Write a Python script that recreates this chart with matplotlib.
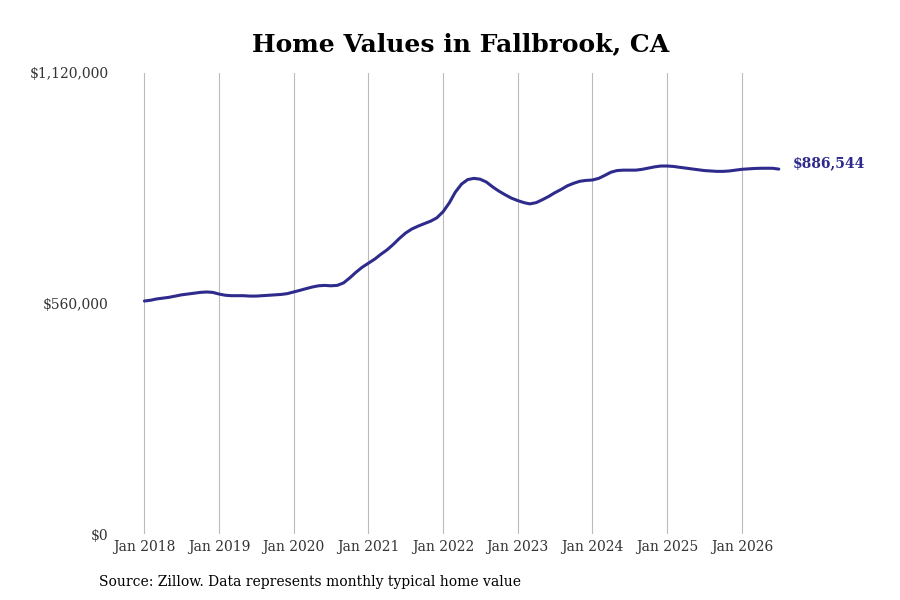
import numpy as np
import pandas as pd
import matplotlib
matplotlib.use("Agg")
import matplotlib.pyplot as plt
import matplotlib.dates as mdates
import matplotlib.ticker as mticker

plt.rcParams['font.family'] = 'DejaVu Serif'

# monthly typical home value, Jan 2018 - Jul 2026 (thousands)
values_k = [
    566, 568, 571, 573, 575, 578, 581, 583, 585, 587, 588, 587,   # 2018
    583, 580, 579, 579, 579, 578, 578, 579, 580, 581, 582, 584,   # 2019
    588, 592, 596, 600, 603, 604, 603, 604, 610, 622, 636, 648,   # 2020
    658, 668, 679, 690, 703, 718, 731, 741, 748, 754, 760, 768,   # 2021
    783, 805, 830, 850, 861, 864, 862, 855, 843, 833, 824, 816,   # 2022
    810, 805, 802, 805, 812, 820, 829, 837, 846, 852, 857, 859,   # 2023
    860, 864, 871, 879, 883, 884, 884, 884, 886, 889, 892, 894,   # 2024
    894, 893, 891, 889, 887, 885, 883, 882, 881, 881, 882, 884,   # 2025
    886, 887, 888, 888.5, 888.6, 888.5, 886.544,                  # 2026
]
dates = pd.date_range("2018-01-01", periods=len(values_k), freq="MS")
values = np.array(values_k) * 1000

y_ticks = [0, 560000, 1120000]
x_years = list(range(2018, 2027))
line_color = "#2e2b8c"

fig = plt.figure(figsize=(9, 6), dpi=100)
ax = fig.add_axes([117 / 900, 1 - 534 / 600, 753 / 900, 461 / 600])

ax.plot(dates, values, color=line_color, linewidth=2.2, solid_capstyle="round")

ax.set_ylim(0, 1120000)
ax.set_yticks(y_ticks)
ax.yaxis.set_major_formatter(mticker.FuncFormatter(lambda v, p: f"${v:,.0f}"))

ax.set_xlim(pd.Timestamp("2017-08-20"), pd.Timestamp("2027-09-20"))
ax.set_xticks([pd.Timestamp(f"{y}-01-01") for y in x_years])
ax.xaxis.set_major_formatter(mdates.DateFormatter("%b %Y"))

ax.grid(axis="x", color="#bbbbbb", linewidth=0.8)
ax.grid(axis="y", visible=False)
for s in ax.spines.values():
    s.set_visible(False)
ax.tick_params(length=0, labelsize=10, colors="#333333")
ax.tick_params(axis="y", pad=6)
ax.tick_params(axis="x", pad=4)

ax.annotate(f"${values[-1]:,.0f}", xy=(dates[-1], values[-1]), xytext=(10, 4),
            textcoords="offset points", va="center", ha="left",
            color=line_color, fontsize=10, fontweight="bold")

fig.suptitle("Home Values in Fallbrook, CA", x=0.512, y=0.947, fontsize=18, fontweight="bold")
fig.text(99 / 900, 1 - 582 / 600, "Source: Zillow. Data represents monthly typical home value",
         fontsize=10, va="center", ha="left")

fig.savefig("out.png", dpi=100)
